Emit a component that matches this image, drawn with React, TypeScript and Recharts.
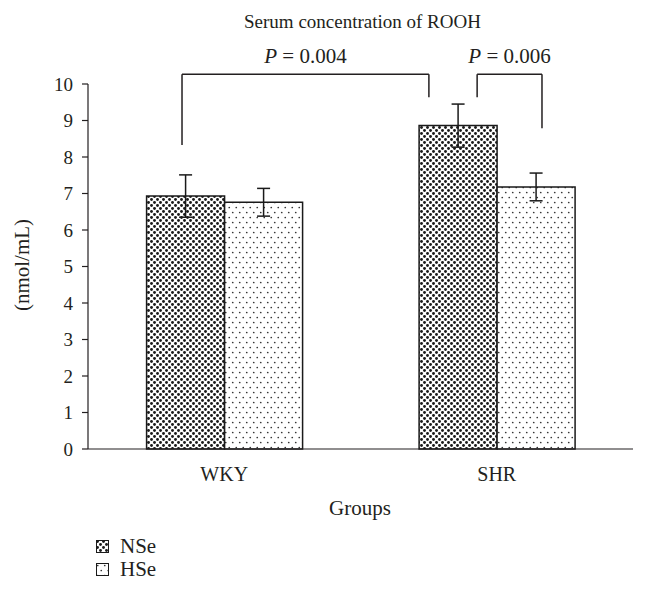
import { BarChart, Bar, XAxis, YAxis, ErrorBar, ReferenceLine } from 'recharts';

const groups = ['WKY', 'SHR'];
const nseMeans = [6.93, 8.86];
const nseErrors = [0.58, 0.59];
const hseMeans = [6.76, 7.18];
const hseErrors = [0.38, 0.38];
const yTicks = [0, 1, 2, 3, 4, 5, 6, 7, 8, 9, 10];
const groupEdges = [0, 1, 2];

// significance brackets, in axis units (x: group bands, y: nmol/mL)
const bracketLabels = ['0.004', '0.006'];
const bracketX1 = [0.345, 1.428];
const bracketX2 = [1.251, 1.666];
const bracketTop = [10.27, 10.27];
const bracketLeftFoot = [8.33, 9.64];
const bracketRightFoot = [9.64, 8.79];

const chartData = groups.map((g, i) => ({
  group: g,
  pos: i + 0.5,
  NSe: nseMeans[i],
  nseErr: nseErrors[i],
  HSe: hseMeans[i],
  hseErr: hseErrors[i],
}));

const FONT = '"Liberation Serif", "DejaVu Serif", serif';
const INK = '#231f20';

const PLabel = ({ viewBox, value }: any) => {
  const x = viewBox.x + viewBox.width / 2;
  const y = viewBox.y - 11;
  return (
    <text x={x} y={y} textAnchor="middle" fontFamily={FONT} fontSize={21} fill={INK}>
      <tspan fontStyle="italic">P</tspan>
      <tspan> = {value}</tspan>
    </text>
  );
};

export default function App() {
  return (
    <div style={{ position: 'absolute', left: 0, top: 0, width: 647, height: 601, background: '#fff', fontFamily: FONT, color: INK }}>
      <svg width="0" height="0" style={{ position: 'absolute' }}>
        <defs>
          <pattern id="nsePat" width="6" height="6" patternUnits="userSpaceOnUse">
            <rect width="6" height="6" fill="#fff" />
            <circle cx="1.5" cy="1.5" r="1.45" fill="#1a1a1a" />
            <circle cx="4.5" cy="4.5" r="1.45" fill="#1a1a1a" />
          </pattern>
          <pattern id="hsePat" width="7" height="10" patternUnits="userSpaceOnUse">
            <rect width="7" height="10" fill="#fff" />
            <circle cx="1.75" cy="2.5" r="0.85" fill="#333" />
            <circle cx="5.25" cy="7.5" r="0.85" fill="#333" />
          </pattern>
        </defs>
      </svg>

      <div style={{ position: 'absolute', left: 0, width: 725, top: 10, textAlign: 'center', fontSize: 19, lineHeight: '24px' }}>
        Serum concentration of ROOH
      </div>

      <BarChart
        width={647}
        height={601}
        data={chartData}
        margin={{ top: 84, right: 14, bottom: 81, left: 48 }}
        barCategoryGap="21.5%"
        barGap={0}
      >
        <XAxis
          xAxisId="a"
          type="number"
          dataKey="pos"
          scale="linear"
          domain={[0, 2]}
          allowDataOverflow
          ticks={groupEdges}
          tick={false}
          tickSize={7}
          height={1}
          stroke={INK}
          strokeWidth={1.2}
        />
        <XAxis
          xAxisId="b"
          dataKey="group"
          axisLine={false}
          tickLine={false}
          tickSize={0}
          tickMargin={17}
          height={70}
          tick={{ fontFamily: FONT, fontSize: 20, fill: INK }}
        />
        <YAxis
          domain={[0, 10]}
          ticks={yTicks}
          interval={0}
          width={40}
          tickSize={6}
          tickMargin={9}
          stroke={INK}
          strokeWidth={1.2}
          tick={{ fontFamily: FONT, fontSize: 19, fill: INK }}
        />
        <Bar xAxisId="b" dataKey="NSe" fill="url(#nsePat)" stroke="#1a1a1a" strokeWidth={1.5} isAnimationActive={false}>
          <ErrorBar dataKey="nseErr" width={6.5} stroke="#1a1a1a" strokeWidth={1.5} />
        </Bar>
        <Bar xAxisId="b" dataKey="HSe" fill="url(#hsePat)" stroke="#1a1a1a" strokeWidth={1.5} isAnimationActive={false}>
          <ErrorBar dataKey="hseErr" width={6.5} stroke="#1a1a1a" strokeWidth={1.5} />
        </Bar>
        {bracketLabels.map((p, i) => (
          <ReferenceLine
            key={'top' + i}
            xAxisId="a"
            ifOverflow="visible"
            segment={[
              { x: bracketX1[i], y: bracketTop[i] },
              { x: bracketX2[i], y: bracketTop[i] },
            ]}
            stroke={INK}
            strokeWidth={1.5}
            label={<PLabel value={p} />}
          />
        ))}
        {bracketLabels.map((p, i) => (
          <ReferenceLine
            key={'l' + i}
            xAxisId="a"
            ifOverflow="visible"
            segment={[
              { x: bracketX1[i], y: bracketTop[i] },
              { x: bracketX1[i], y: bracketLeftFoot[i] },
            ]}
            stroke={INK}
            strokeWidth={1.5}
          />
        ))}
        {bracketLabels.map((p, i) => (
          <ReferenceLine
            key={'r' + i}
            xAxisId="a"
            ifOverflow="visible"
            segment={[
              { x: bracketX2[i], y: bracketTop[i] },
              { x: bracketX2[i], y: bracketRightFoot[i] },
            ]}
            stroke={INK}
            strokeWidth={1.5}
          />
        ))}
      </BarChart>

      <div
        style={{
          position: 'absolute',
          left: 22,
          top: 265,
          transform: 'translate(-50%, -50%) rotate(-90deg)',
          fontSize: 21,
          whiteSpace: 'nowrap',
        }}
      >
        (nmol/mL)
      </div>
      <div style={{ position: 'absolute', left: 0, width: 720, top: 495, textAlign: 'center', fontSize: 21, lineHeight: '26px' }}>
        Groups
      </div>

      <div style={{ position: 'absolute', left: 96, top: 535, fontSize: 21, lineHeight: '23px' }}>
        {[
          { name: 'NSe', pat: 'nsePat' },
          { name: 'HSe', pat: 'hsePat' },
        ].map((s) => (
          <div key={s.name} style={{ display: 'flex', alignItems: 'center', height: 23 }}>
            <svg width={13} height={13} style={{ marginRight: 11 }}>
              <rect x={0.5} y={0.5} width={12} height={12} fill={`url(#${s.pat})`} stroke="#1a1a1a" />
            </svg>
            {s.name}
          </div>
        ))}
      </div>
    </div>
  );
}
